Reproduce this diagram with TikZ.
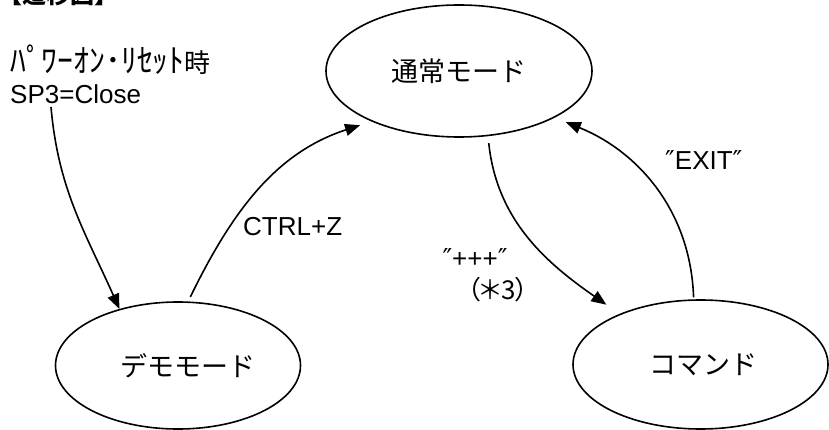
\documentclass[tikz,border=0pt]{standalone}
\usepackage{fontspec}
\setmainfont{Liberation Sans}
\newfontfamily\jp{Noto Sans CJK JP}
\newfontfamily\dv{DejaVu Sans}
\usetikzlibrary{arrows.meta,shapes.geometric}
\begin{document}
\begin{tikzpicture}[x=1pt,y=-1pt,
  state/.style={ellipse,draw,line width=1.6pt,inner sep=0pt,font=\jp\fontsize{27}{32}\selectfont},
  conn/.style={line width=1.6pt,-{Triangle[length=15pt,width=12pt]}},
  lbl/.style={inner sep=0pt,font=\fontsize{26}{30}\selectfont},
  jlbl/.style={inner sep=0pt,font=\jp\fontsize{26}{30}\selectfont},
]
\useasboundingbox (0,0) rectangle (829,430);
\node[state,minimum width=266pt,minimum height=132pt] (normal) at (459,71) {通常モード};
\node[state,minimum width=245pt,minimum height=127pt] (demo) at (178,365.5) {\hspace*{20pt}デモモード};
\node[state,minimum width=255pt,minimum height=129pt] (cmd) at (700.5,364.5) {\hspace*{5pt}コマンド};

\node[jlbl,anchor=base west,font=\jp\bfseries\fontsize{24}{28}\selectfont] (title) at (-2,4) {【遷移図】};
\node[jlbl,anchor=base west] (pw) at (10,73) {\scalebox{1.22}[1.25]{ﾊﾟﾜｰｵﾝ･ﾘｾｯﾄ}時};
\node[lbl,anchor=base west] (sp) at (10,104) {SP3=Close};
\node[lbl,anchor=base west] (ctrl) at (243,236) {CTRL+Z};
\node[lbl] (plus) at (475,258) {{\dv ″}+++{\dv ″}};
\node[jlbl] (star) at (498,290) {\addfontfeature{RawFeature=+palt}（＊3）};
\node[lbl,anchor=base west] (exit) at (665,170) {{\dv ″}EXIT{\dv ″}};

\coordinate (s1) at (51,107);
\draw[conn] (s1) to[out=275,in=114] (demo.136);
\draw[conn,shorten <=5pt,shorten >=12pt] (demo.81) to[out=64,in=198] (normal.210);
\draw[conn,shorten <=7pt,shorten >=16pt] (normal.294) to[out=276,in=145] (cmd.148);
\draw[conn,shorten <=2pt,shorten >=12pt] (cmd.96) to[out=92,in=338] (normal.334);
\end{tikzpicture}
\end{document}
